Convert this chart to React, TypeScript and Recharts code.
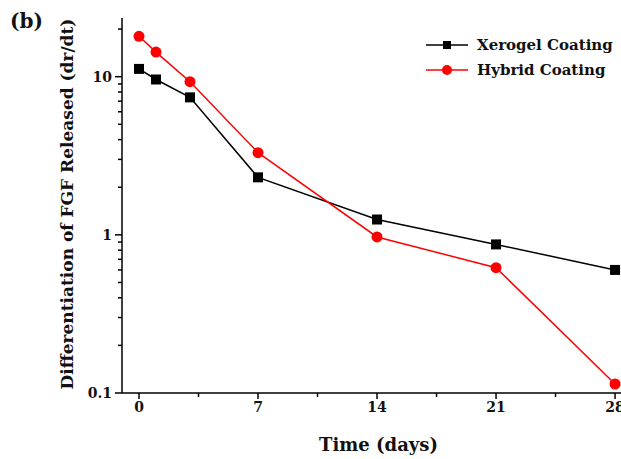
import { LineChart, Line, XAxis, YAxis } from 'recharts';

const days = [0, 1, 3, 7, 14, 21, 28];
const xerogel = [11.2, 9.6, 7.4, 2.31, 1.25, 0.87, 0.6];
const hybrid = [18.0, 14.3, 9.3, 3.31, 0.97, 0.62, 0.114];

const xTicks = [0, 3.5, 7, 10.5, 14, 17.5, 21, 24.5, 28];
const xLabels = [0, 7, 14, 21, 28];
const yTicks = [0.1, 0.2, 0.3, 0.4, 0.5, 0.6, 0.7, 0.8, 0.9, 1, 2, 3, 4, 5, 6, 7, 8, 9, 10, 20];
const yLabels = [0.1, 1, 10];

const data = days.map((d, i) => ({ day: d, xerogel: xerogel[i], hybrid: hybrid[i] }));

const font = '"DejaVu Serif", serif';
const ink = '#111';

const XTick = (props: any) => {
  const { x, y, payload } = props;
  const major = xLabels.includes(payload.value);
  return (
    <g>
      <line x1={x} x2={x} y1={y} y2={y + (major ? 6 : 4)} stroke="#000" strokeWidth={1.5} />
      {major && (
        <text x={x} y={y + 19} textAnchor="middle" fontFamily={font} fontWeight="bold" fontSize={14} fill={ink}>
          {payload.value}
        </text>
      )}
    </g>
  );
};

const YTick = (props: any) => {
  const { x, y, payload } = props;
  const major = yLabels.includes(payload.value);
  return (
    <g>
      <line x1={x} x2={x - (major ? 7 : 4)} y1={y} y2={y} stroke="#000" strokeWidth={1.5} />
      {major && (
        <text x={x - 10} y={y + 5} textAnchor="end" fontFamily={font} fontWeight="bold" fontSize={14} fill={ink}>
          {payload.value}
        </text>
      )}
    </g>
  );
};

const XTitle = (props: any) => {
  const { x, width } = props.viewBox;
  return (
    <text x={x + width / 2 + 7} y={451} textAnchor="middle" fontFamily={font} fontWeight="bold" fontSize={18} fill={ink}>
      Time (days)
    </text>
  );
};

const YTitle = () => (
  <text x={73} y={204} transform="rotate(-90 73 204)" textAnchor="middle" fontFamily={font} fontWeight="bold" fontSize={17} fill={ink}>
    Differentiation of FGF Released (dr/dt)
  </text>
);

const SquareDot = (props: any) => {
  const { cx, cy, index } = props;
  if (cx == null || cy == null) return null;
  return <rect key={`sq-${index}`} x={cx - 5} y={cy - 5} width={10} height={10} fill="#000" />;
};

const CircleDot = (props: any) => {
  const { cx, cy, index } = props;
  if (cx == null || cy == null) return null;
  return <circle key={`ci-${index}`} cx={cx} cy={cy} r={5.5} fill="#ff0000" />;
};

const legendItems = [
  { name: 'Xerogel Coating', color: '#000', shape: 'square' },
  { name: 'Hybrid Coating', color: '#ff0000', shape: 'circle' },
];

const LegendBox = () => (
  <div style={{ position: 'absolute', left: 424, top: 32 }}>
    {legendItems.map((it) => (
      <div key={it.name} style={{ display: 'flex', alignItems: 'center', height: 25 }}>
        <svg width={53} height={14}>
          <line x1={2} x2={44} y1={7} y2={7} stroke={it.color} strokeWidth={1.5} />
          {it.shape === 'square' ? (
            <rect x={19} y={3} width={8} height={8} fill={it.color} />
          ) : (
            <circle cx={23} cy={7} r={5} fill={it.color} />
          )}
        </svg>
        <span style={{ fontFamily: font, fontWeight: 'bold', fontSize: 15, color: ink, whiteSpace: 'nowrap' }}>{it.name}</span>
      </div>
    ))}
  </div>
);

export default function App() {
  return (
    <div style={{ position: 'absolute', left: 0, top: 0, width: 621, height: 459, background: '#fff', overflow: 'hidden' }}>
      <div style={{ position: 'absolute', left: 10, top: 9, fontFamily: font, fontWeight: 'bold', fontSize: 20, color: ink }}>
        (b)
      </div>
      <LineChart width={621} height={459} data={data} margin={{ top: 18, right: 0, bottom: 0, left: 0 }}>
        <XAxis
          dataKey="day"
          type="number"
          domain={[-1, 28.35]}
          allowDataOverflow
          ticks={xTicks}
          interval={0}
          tick={XTick}
          tickLine={false}
          tickSize={0}
          tickMargin={0}
          axisLine={{ stroke: '#000', strokeWidth: 1.5 }}
          height={66}
          label={<XTitle />}
        />
        <XAxis
          xAxisId="top"
          orientation="top"
          type="number"
          domain={[-1, 28.35]}
          tick={false}
          tickLine={false}
          height={0}
          axisLine={{ stroke: '#000', strokeWidth: 1.5 }}
        />
        <YAxis
          scale="log"
          type="number"
          domain={[0.1, 23.5]}
          allowDataOverflow
          ticks={yTicks}
          interval={0}
          tick={YTick}
          tickLine={false}
          tickSize={0}
          tickMargin={0}
          axisLine={{ stroke: '#000', strokeWidth: 1.5 }}
          width={122}
          label={<YTitle />}
        />
        <Line
          dataKey="xerogel"
          name="Xerogel Coating"
          stroke="#000"
          strokeWidth={1.5}
          dot={SquareDot}
          isAnimationActive={false}
        />
        <Line
          dataKey="hybrid"
          name="Hybrid Coating"
          stroke="#ff0000"
          strokeWidth={1.5}
          dot={CircleDot}
          isAnimationActive={false}
        />
      </LineChart>
      <LegendBox />
    </div>
  );
}
